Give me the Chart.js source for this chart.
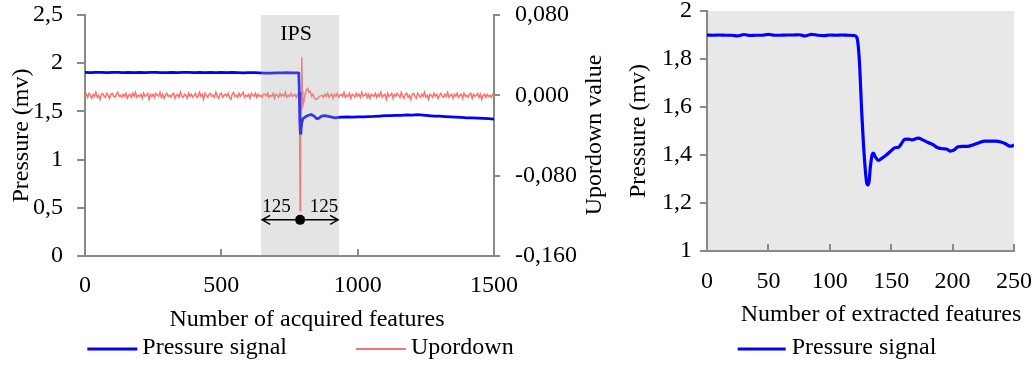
<!DOCTYPE html>
<html>
<head>
<meta charset="utf-8">
<script src="https://cdn.jsdelivr.net/npm/chart.js@4.4.1/dist/chart.umd.min.js"></script>
<style>
  html, body { margin: 0; padding: 0; background: #fff; }
  #wrap { position: relative; width: 1036px; height: 367px; overflow: hidden; }
  #acquired { position: absolute; left: 0; top: 0; }
  #extracted { position: absolute; left: 615px; top: 0; }
</style>
</head>
<body>
<div id="wrap">
  <canvas id="acquired" width="615" height="367"></canvas>
  <canvas id="extracted" width="421" height="367"></canvas>
</div>
<script>
// ---- left panel: acquired features ----
var acquiredTickValues = [0, 500, 1000, 1500];
var acquiredTickLabels = ['0', '500', '1000', '1500'];
var pressureTickValues = [0, 0.5, 1, 1.5, 2, 2.5];
var pressureTickLabels = ['0', '0,5', '1', '1,5', '2', '2,5'];
var upordownTickValues = [-0.16, -0.08, 0, 0.08];
var upordownTickLabels = ['-0,160', '-0,080', '0,000', '0,080'];

// pressure signal: steady part sampled every 20, the IPS drop, then every 20 again
var pressureStep = 20;
var pressureBefore = [
  1.905, 1.903, 1.906, 1.904, 1.902, 1.906, 1.904, 1.901, 1.905, 1.903,
  1.906, 1.902, 1.904, 1.906, 1.903, 1.901, 1.905, 1.903, 1.904, 1.906,
  1.902, 1.904, 1.903, 1.905, 1.901, 1.904, 1.902, 1.905, 1.903, 1.900,
  1.903, 1.901, 1.899, 1.896, 1.898, 1.900, 1.899, 1.901, 1.900, 1.899
];
var pressureIPS = [
  [784, 1.897], [786, 1.70], [788, 1.40], [790, 1.275], [792, 1.30], [795, 1.38],
  [799, 1.425], [805, 1.435], [812, 1.45], [820, 1.46], [830, 1.467], [840, 1.452],
  [850, 1.425], [858, 1.43], [868, 1.452], [880, 1.456], [893, 1.448], [905, 1.44],
  [918, 1.432], [930, 1.438]
];
var pressureAfterStart = 940;
var pressureAfter = [
  1.440, 1.442, 1.440, 1.444, 1.443, 1.447, 1.448, 1.452, 1.456, 1.455,
  1.458, 1.460, 1.463, 1.462, 1.466, 1.461, 1.456, 1.452, 1.450, 1.447,
  1.444, 1.441, 1.437, 1.434, 1.432, 1.430, 1.427, 1.424, 1.420
];

// upordown value: sampled every 5, denser around the IPS spike
var upordownStep = 5;
var upordownBefore = [
  -0.001, 0.001, -0.002, 0.002, 0.000, -0.003, 0.001, -0.001, 0.003, -0.002,
  0.000, -0.004, 0.001, 0.002, -0.001, -0.002, 0.002, 0.000, -0.003, 0.001,
  0.002, -0.001, -0.002, 0.001, 0.003, -0.001, 0.000, -0.002, 0.001, -0.001,
  0.002, -0.003, 0.000, 0.001, -0.002, 0.002, -0.001, 0.003, -0.002, 0.000,
  -0.001, 0.001, -0.003, 0.002, -0.001, 0.000, 0.002, -0.004, 0.001, -0.001,
  0.001, -0.002, 0.002, 0.000, -0.001, 0.003, -0.002, 0.001, -0.003, 0.000,
  0.002, -0.001, 0.000, -0.002, 0.001, 0.002, -0.003, 0.000, 0.001, -0.002,
  0.003, -0.001, -0.002, 0.001, 0.000, -0.003, 0.002, -0.001, 0.001, -0.002,
  0.000, 0.002, -0.002, -0.001, 0.003, -0.001, 0.001, -0.004, 0.002, 0.000,
  -0.002, 0.001, 0.002, -0.001, 0.000, -0.002, 0.003, -0.001, -0.003, 0.001,
  0.002, -0.002, 0.000, 0.001, -0.001, 0.002, -0.002, -0.004, 0.001, 0.003,
  -0.001, 0.000, -0.002, 0.002, -0.001, 0.001, 0.003, -0.002, 0.000, -0.001,
  0.001, -0.003, 0.002, 0.000, -0.001, 0.002, -0.002, 0.001, -0.001, 0.000,
  -0.002, 0.001, 0.001, -0.001, 0.002, -0.002, 0.000, -0.001, 0.002, -0.003,
  0.001, 0.000, -0.002, 0.002, -0.001, 0.001, -0.001, 0.003, -0.002, 0.000,
  -0.001, 0.002, -0.001, 0.000, 0.001, -0.002, 0.001
];
var upordownIPS = [
  [785, -0.002], [787, -0.030], [789, -0.115], [791, -0.040], [793, -0.004],
  [795, 0.038], [797, 0.004], [799, -0.010], [803, -0.006], [808, 0.002],
  [813, 0.006], [817, 0.007], [821, 0.003], [826, 0.004], [831, -0.001],
  [836, 0.001], [842, -0.003], [848, -0.004], [854, -0.003], [860, -0.001]
];
var upordownAfterStart = 870;
var upordownAfter = [
  0.000, -0.002, 0.001, -0.001, 0.002, -0.002, 0.000, 0.001, -0.003, 0.001,
  -0.001, 0.002, -0.002, 0.000, 0.001, -0.001, 0.003, -0.002, 0.000, -0.001,
  0.002, -0.003, 0.001, 0.000, -0.002, 0.002, -0.001, 0.001, -0.002, 0.003,
  -0.001, 0.000, 0.002, -0.002, 0.001, -0.003, 0.001, 0.000, -0.001, 0.002,
  -0.002, 0.001, -0.001, 0.003, -0.002, 0.000, 0.001, -0.004, 0.002, -0.001,
  0.000, 0.002, -0.003, 0.001, -0.001, 0.002, 0.000, -0.002, 0.003, -0.001,
  -0.003, 0.001, 0.002, -0.002, 0.000, -0.004, 0.001, 0.002, -0.001, -0.003,
  0.002, 0.000, -0.002, 0.001, -0.001, 0.003, -0.002, 0.000, -0.004, 0.001,
  0.000, -0.002, 0.002, -0.001, 0.001, -0.003, 0.000, 0.002, -0.001, -0.002,
  0.001, -0.001, 0.003, -0.002, 0.000, 0.001, -0.003, 0.001, -0.001, 0.002,
  -0.002, 0.000, 0.001, -0.003, 0.002, -0.001, 0.000, -0.002, 0.001, 0.002,
  -0.003, 0.001, -0.001, 0.000, 0.002, -0.002, 0.001, -0.004, 0.000, 0.001,
  -0.002, 0.001, -0.001, 0.000, -0.002, 0.001, -0.001
];

// IPS window: shaded span, detection point, arrow height and its labels
var ipsWindow = [646, 932];
var ipsIndex = 789;
var arrowLevel = 0.375;
var windowSpan = ['125', '125'];

// ---- right panel: extracted features ----
var extractedTickValues = [0, 50, 100, 150, 200, 250];
var extractedTickLabels = ['0', '50', '100', '150', '200', '250'];
var zoomTickValues = [1, 1.2, 1.4, 1.6, 1.8, 2];
var zoomTickLabels = ['1', '1,2', '1,4', '1,6', '1,8', '2'];
var extractedX = [
  0, 5, 10, 15, 20, 25, 30, 35, 40, 45, 50, 55, 60, 65, 70, 75, 80, 85, 90, 95,
  100, 105, 110, 115, 120, 122, 124, 126, 128, 130, 131, 132, 133, 134.5, 135.5,
  137, 139.5, 142, 146, 150, 153, 156, 158, 161, 164, 167, 172, 176, 180, 184,
  188, 192, 195, 198, 201, 204, 208, 212, 217, 222, 226, 230, 235, 240, 243,
  246, 248, 250
];
var extractedPressure = [
  1.900, 1.899, 1.900, 1.899, 1.899, 1.896, 1.902, 1.898, 1.899, 1.899, 1.903,
  1.899, 1.899, 1.900, 1.900, 1.901, 1.896, 1.903, 1.899, 1.897,
  1.900, 1.899, 1.900, 1.899, 1.898, 1.890, 1.80, 1.58, 1.40, 1.285, 1.275,
  1.29, 1.35, 1.40, 1.408,
  1.393, 1.378, 1.385, 1.40, 1.418, 1.43, 1.432, 1.445, 1.465, 1.466, 1.463,
  1.470, 1.462, 1.452, 1.443,
  1.430, 1.426, 1.425, 1.416, 1.420, 1.433, 1.436, 1.436, 1.443, 1.452, 1.458,
  1.458, 1.458, 1.453, 1.447,
  1.438, 1.437, 1.442
];

Chart.defaults.font.family = '"Liberation Serif", "Times New Roman", serif';
Chart.defaults.font.size = 24;
Chart.defaults.color = '#000';

var axisGrey = '#898989';
var serif = '"Liberation Serif", "Times New Roman", serif';

function fixedTicks(values) {
  return function (scale) {
    scale.ticks = values.map(function (v) { return { value: v }; });
  };
}
function tickText(labels) {
  return function (value, index) { return labels[index]; };
}
function fixedWidth(w) {
  return function (scale) { scale.width = w; scale.paddingTop = 0; scale.paddingBottom = 0; };
}
function fixedHeight(h) {
  return function (scale) { scale.height = h; scale.paddingLeft = 0; scale.paddingRight = 0; };
}

// build {x, y} points
var pressurePoints = [];
pressureBefore.forEach(function (v, i) { pressurePoints.push({ x: i * pressureStep, y: v }); });
pressureIPS.forEach(function (p) { pressurePoints.push({ x: p[0], y: p[1] }); });
pressureAfter.forEach(function (v, i) { pressurePoints.push({ x: pressureAfterStart + i * pressureStep, y: v }); });

var upordownPoints = [];
upordownBefore.forEach(function (v, i) { upordownPoints.push({ x: i * upordownStep, y: v }); });
upordownIPS.forEach(function (p) { upordownPoints.push({ x: p[0], y: p[1] }); });
upordownAfter.forEach(function (v, i) { upordownPoints.push({ x: upordownAfterStart + i * upordownStep, y: v }); });

var extractedPoints = extractedX.map(function (x, i) { return { x: x, y: extractedPressure[i] }; });

// legend: short line + label, items laid out from a centre point
var lineLegend = {
  id: 'lineLegend',
  afterDraw: function (chart, args, opts) {
    var ctx = chart.ctx;
    ctx.save();
    ctx.font = '24px ' + serif;
    var items = chart.data.datasets.map(function (ds) {
      return { ds: ds, w: ctx.measureText(ds.label).width };
    });
    var total = opts.itemGap * (items.length - 1);
    items.forEach(function (it) { total += opts.lineLength + opts.textGap + it.w; });
    var x = opts.centerX - total / 2;
    ctx.textBaseline = 'middle';
    items.forEach(function (it) {
      ctx.strokeStyle = it.ds.borderColor;
      ctx.lineWidth = it.ds.legendWidth || it.ds.borderWidth;
      ctx.beginPath();
      ctx.moveTo(x, opts.lineY);
      ctx.lineTo(x + opts.lineLength, opts.lineY);
      ctx.stroke();
      x += opts.lineLength + opts.textGap;
      ctx.fillStyle = '#000';
      ctx.fillText(it.ds.label, x, opts.textY);
      x += it.w + opts.itemGap;
    });
    ctx.restore();
  }
};

// free captions (axis titles that sit off-centre or read bottom-to-top on the right)
var captions = {
  id: 'captions',
  afterDraw: function (chart, args, opts) {
    var ctx = chart.ctx;
    (opts.items || []).forEach(function (c) {
      ctx.save();
      ctx.translate(c.x, c.y);
      if (c.rotate) ctx.rotate(c.rotate);
      ctx.font = '24px ' + serif;
      ctx.fillStyle = '#000';
      ctx.textAlign = 'center';
      ctx.textBaseline = 'middle';
      ctx.fillText(c.text, 0, 0);
      ctx.restore();
    });
  }
};

// shaded IPS window with the arrow, the detection point and labels
var ipsMarks = {
  id: 'ipsMarks',
  afterDatasetsDraw: function (chart) {
    var ctx = chart.ctx, area = chart.chartArea;
    var xs = chart.scales.x, ys = chart.scales.y;
    var x0 = xs.getPixelForValue(ipsWindow[0]);
    var x1 = xs.getPixelForValue(ipsWindow[1]);
    var xc = xs.getPixelForValue(ipsIndex);
    var ya = ys.getPixelForValue(arrowLevel);
    ctx.save();
    ctx.fillStyle = 'rgba(170,170,170,0.32)';
    ctx.fillRect(x0, area.top, x1 - x0, area.bottom - area.top - 1);

    ctx.fillStyle = '#000';
    ctx.font = '22px ' + serif;
    ctx.textAlign = 'center';
    ctx.textBaseline = 'middle';
    ctx.fillText('IPS', xc - 4, area.top + 19);

    ctx.strokeStyle = '#000';
    ctx.lineWidth = 1.5;
    ctx.beginPath();
    ctx.moveTo(x0 + 1, ya);
    ctx.lineTo(x1 - 1, ya);
    ctx.moveTo(x0 + 9, ya - 4.5);
    ctx.lineTo(x0 + 1, ya);
    ctx.lineTo(x0 + 9, ya + 4.5);
    ctx.moveTo(x1 - 9, ya - 4.5);
    ctx.lineTo(x1 - 1, ya);
    ctx.lineTo(x1 - 9, ya + 4.5);
    ctx.stroke();
    ctx.beginPath();
    ctx.arc(xc, ya, 5, 0, Math.PI * 2);
    ctx.fill();

    ctx.font = '19px ' + serif;
    ctx.textAlign = 'left';
    ctx.fillText(windowSpan[0], x0 + 1, ya - 13);
    ctx.textAlign = 'right';
    ctx.fillText(windowSpan[1], x1 - 1, ya - 13);
    ctx.restore();
  }
};

var plotBackground = {
  id: 'plotBackground',
  beforeDraw: function (chart, args, opts) {
    var a = chart.chartArea;
    chart.ctx.save();
    chart.ctx.fillStyle = opts.color;
    chart.ctx.fillRect(a.left, a.top, a.right - a.left, a.bottom - a.top);
    chart.ctx.restore();
  }
};

function axisGrid(len) {
  return { drawOnChartArea: false, tickLength: len, color: axisGrey, lineWidth: 2 };
}
var axisBorder = { color: axisGrey, width: 2 };

new Chart(document.getElementById('acquired'), {
  type: 'line',
  data: {
    datasets: [
      {
        label: 'Pressure signal',
        data: pressurePoints,
        borderColor: 'rgb(0,0,255)',
        borderWidth: 2.75,
        legendWidth: 3,
        pointRadius: 0,
        tension: 0
      },
      {
        label: 'Upordown',
        data: upordownPoints,
        yAxisID: 'y1',
        borderColor: 'rgb(255,112,112)',
        borderWidth: 1.5,
        legendWidth: 2,
        pointRadius: 0,
        tension: 0
      }
    ]
  },
  options: {
    responsive: false,
    animation: false,
    events: [],
    layout: { padding: { top: 15, right: 0, bottom: 32, left: 0 } },
    scales: {
      x: {
        type: 'linear',
        min: 0,
        max: 1500,
        afterBuildTicks: fixedTicks(acquiredTickValues),
        afterFit: fixedHeight(79),
        ticks: { callback: tickText(acquiredTickLabels), padding: 22, maxRotation: 0, autoSkip: false },
        grid: axisGrid(-7),
        border: axisBorder
      },
      y: {
        position: 'left',
        min: 0,
        max: 2.5,
        afterBuildTicks: fixedTicks(pressureTickValues),
        afterFit: fixedWidth(85),
        ticks: { callback: tickText(pressureTickLabels), padding: 14 },
        grid: axisGrid(8),
        border: axisBorder,
        title: { display: true, text: 'Pressure (mv)', padding: { top: 7, bottom: 0 } }
      },
      y1: {
        position: 'right',
        min: -0.16,
        max: 0.08,
        afterBuildTicks: fixedTicks(upordownTickValues),
        afterFit: fixedWidth(121),
        ticks: { callback: tickText(upordownTickLabels), padding: 15 },
        grid: axisGrid(6),
        border: axisBorder
      }
    },
    plugins: {
      legend: { display: false },
      tooltip: { enabled: false },
      lineLegend: { centerX: 300.5, lineY: 349, textY: 348, lineLength: 50, textGap: 5, itemGap: 69 },
      captions: {
        items: [
          { text: 'Number of acquired features', x: 307, y: 320 },
          { text: 'Upordown value', x: 595, y: 135, rotate: -Math.PI / 2 }
        ]
      }
    }
  },
  plugins: [ipsMarks, lineLegend, captions]
});

new Chart(document.getElementById('extracted'), {
  type: 'line',
  data: {
    datasets: [
      {
        label: 'Pressure signal',
        data: extractedPoints,
        borderColor: 'rgb(0,0,255)',
        borderWidth: 3.2,
        legendWidth: 3,
        pointRadius: 0,
        cubicInterpolationMode: 'monotone'
      }
    ]
  },
  options: {
    responsive: false,
    animation: false,
    events: [],
    layout: { padding: { top: 11, right: 22, bottom: 38, left: 0 } },
    scales: {
      x: {
        type: 'linear',
        min: 0,
        max: 250,
        afterBuildTicks: fixedTicks(extractedTickValues),
        afterFit: fixedHeight(78),
        ticks: { callback: tickText(extractedTickLabels), padding: 23, maxRotation: 0, autoSkip: false },
        grid: axisGrid(-7),
        border: axisBorder
      },
      y: {
        min: 1,
        max: 2,
        afterBuildTicks: fixedTicks(zoomTickValues),
        afterFit: fixedWidth(92),
        ticks: { callback: tickText(zoomTickLabels), padding: 8 },
        grid: axisGrid(7),
        border: axisBorder,
        title: { display: true, text: 'Pressure (mv)', padding: { top: 9, bottom: 0 } }
      }
    },
    plugins: {
      legend: { display: false },
      tooltip: { enabled: false },
      plotBackground: { color: '#e8e8e8' },
      lineLegend: { centerX: 222, lineY: 349, textY: 348, lineLength: 48, textGap: 6, itemGap: 0 },
      captions: {
        items: [
          { text: 'Number of extracted features', x: 266, y: 314.6 }
        ]
      }
    }
  },
  plugins: [plotBackground, lineLegend, captions]
});
</script>
</body>
</html>
